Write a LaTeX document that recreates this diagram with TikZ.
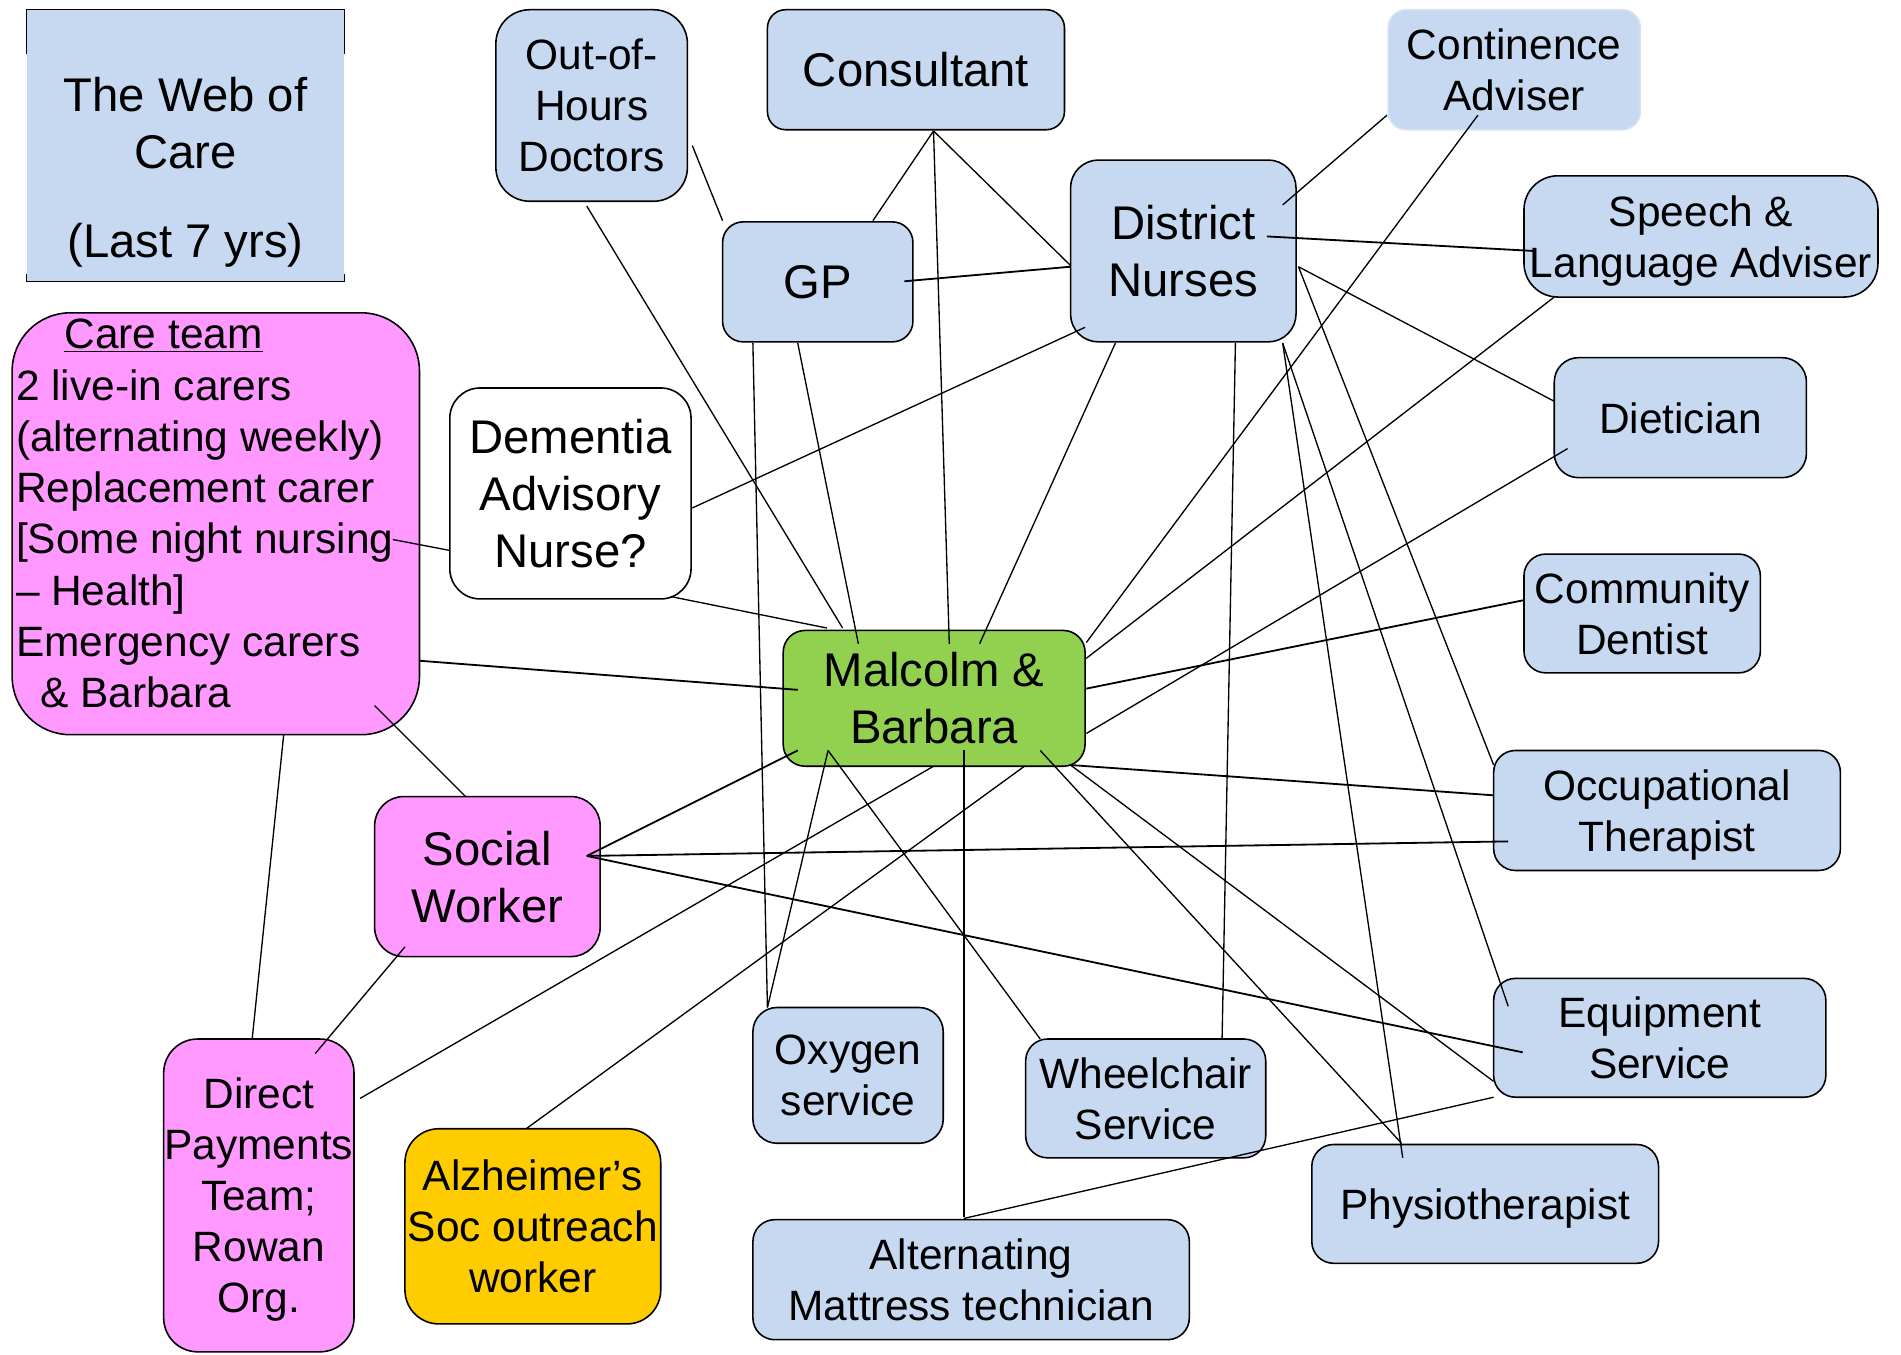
\documentclass[tikz,border=0pt]{standalone}
\usepackage{fontspec}
\setmainfont{Liberation Sans}
\usetikzlibrary{calc}
\definecolor{boxblue}{RGB}{198,217,241}
\definecolor{boxgreen}{RGB}{146,208,80}
\definecolor{boxpink}{RGB}{255,153,255}
\definecolor{boxgold}{RGB}{255,204,0}
\definecolor{contborder}{RGB}{215,227,244}
\begin{document}
\begin{tikzpicture}[x=1pt,y=-1pt,
  box/.style={draw=black, line width=1.3pt, align=center, inner sep=0pt, text depth=0pt,
    font=\fontsize{35}{42}\selectfont},
  bigtext/.style={font=\fontsize{39}{47}\selectfont},
  bluebox/.style={fill=boxblue},
  pinkbox/.style={fill=boxpink},
  conn/.style={line width=1.1pt, black},
  thick conn/.style={line width=1.5pt, black},
  border/.style={line width=1.3pt, black},
]
\useasboundingbox (0,0) rectangle (1568,1117);
\fill[white] (0,0) rectangle (1568,1117);

% ---------- title ----------
\node[fill=boxblue, minimum width=262pt, minimum height=224pt, inner sep=0pt] (title) at (153,120) {};
\draw[border] ([yshift=-37pt]title.north west) -- (title.north west) -- (title.north east) -- ([yshift=-37pt]title.north east);
\draw[border] ([yshift=6pt]title.south west) -- (title.south west) -- (title.south east) -- ([yshift=6pt]title.south east);
\node[align=center, inner sep=0pt, bigtext] (titletext) at (153,142) {The Web of\\Care\\[26pt](Last 7 yrs)};

% ---------- nodes ----------
\node[box, bluebox, minimum width=158pt, minimum height=158pt, rounded corners=28pt] (ooh) at (488,87) {Out-of-\\Hours\\Doctors};
\node[box, bluebox, bigtext, minimum width=245pt, minimum height=99pt, rounded corners=15pt] (cons) at (755.5,57.5) {Consultant};
\node[box, fill=boxblue, draw=contborder, minimum width=208pt, minimum height=99pt, rounded corners=15pt] (cont) at (1249,57.5) {Continence\\Adviser};
\node[box, bluebox, bigtext, minimum width=157pt, minimum height=99pt, rounded corners=17pt] (gp) at (674.5,232.5) {GP};
\node[box, bluebox, bigtext, minimum width=186pt, minimum height=150pt, rounded corners=23pt] (dn) at (976,207) {District\\Nurses};
\node[box, bluebox, minimum width=292pt, minimum height=100pt, rounded corners=28pt] (speech) at (1403,195) {Speech \&\\Language Adviser};
\node[box, bluebox, minimum width=208pt, minimum height=99pt, rounded corners=20pt] (diet) at (1386,344.5) {Dietician};

\node[box, pinkbox, minimum width=336pt, minimum height=348pt, rounded corners=48pt] (care) at (178,432) {};
\node[anchor=north west, align=left, inner sep=0pt, font=\fontsize{35}{42.3}\selectfont] (caretext) at (13,263)
  {\hspace*{40pt}\underline{Care team}\\2 live-in carers\\(alternating weekly)\\Replacement carer\\{[}Some night nursing\\– Health]\\Emergency carers\\\hspace*{20pt}\& Barbara};

\node[box, fill=white, bigtext, minimum width=199pt, minimum height=174pt, rounded corners=25pt] (dem) at (470.5,407) {Dementia\\Advisory\\Nurse?};
\node[box, fill=boxgreen, bigtext, minimum width=249pt, minimum height=112pt, rounded corners=18pt] (mal) at (770.5,576) {Malcolm \&\\Barbara};
\node[box, bluebox, minimum width=195pt, minimum height=98pt, rounded corners=18pt] (dent) at (1354.5,506) {Community\\Dentist};
\node[box, bluebox, minimum width=286pt, minimum height=99pt, rounded corners=18pt] (occ) at (1375,668.5) {Occupational\\Therapist};
\node[box, pinkbox, bigtext, minimum width=186pt, minimum height=132pt, rounded corners=24pt] (soc) at (402,723) {Social\\Worker};
\node[box, pinkbox, minimum width=157pt, minimum height=258pt, rounded corners=28pt] (dp) at (213.5,986) {Direct\\Payments\\Team;\\Rowan\\Org.};
\node[box, fill=boxgold, minimum width=211pt, minimum height=161pt, rounded corners=28pt] (alz) at (439.5,1011.5) {Alzheimer’s\\Soc outreach\\worker};
\node[box, bluebox, minimum width=157pt, minimum height=112pt, rounded corners=20pt] (oxy) at (699.5,887) {Oxygen\\service};
\node[box, bluebox, minimum width=198pt, minimum height=98pt, rounded corners=18pt] (wheel) at (945,906) {Wheelchair\\Service};
\node[box, bluebox, minimum width=360pt, minimum height=99pt, rounded corners=18pt] (mat) at (801,1055.5) {Alternating\\Mattress technician};
\node[box, bluebox, minimum width=286pt, minimum height=98pt, rounded corners=18pt] (phys) at (1225,993) {Physiotherapist};
\node[box, bluebox, minimum width=274pt, minimum height=98pt, rounded corners=18pt] (equip) at (1369,856) {Equipment\\Service};

% ---------- connectors ----------
\draw[conn] ($(ooh)+(83,33)$) -- ($(gp)+(-78.5,-50.5)$);
\draw[conn] ($(ooh)+(-4,83)$) -- ($(mal)+(-75.5,-58)$);
\draw[conn] ($(cons)+(14.5,50.5)$) -- ($(gp)+(45.5,-50.5)$);
\draw[conn] ($(cons)+(14.5,50.5)$) -- ($(dn)+(-93,12)$);
\draw[conn] ($(cons)+(14.5,50.5)$) -- ($(mal)+(12.5,-45)$);
\draw[thick conn] ($(gp)+(71.5,-0.5)$) -- ($(dn)+(-93,13)$);
\draw[conn] ($(gp)+(-53.5,50.5)$) -- ($(oxy)+(-66.5,-56)$);
\draw[conn] ($(gp)+(-16.5,50.5)$) -- ($(mal)+(-62.5,-45)$);
\draw[conn] ($(cont)+(-105,37.5)$) -- ($(dn)+(82,-38)$);
\draw[conn] ($(cont)+(-30,37.5)$) -- ($(mal)+(125.5,-46)$);
\draw[thick conn] ($(dn)+(69,-12)$) -- ($(speech)+(-138,12)$);
\draw[conn] ($(dn)+(95,13)$) -- ($(diet)+(-104,-13.5)$);
\draw[conn] ($(dn)+(-81,63)$) -- ($(dem)+(100.5,12)$);
\draw[conn] ($(dn)+(-56,76)$) -- ($(mal)+(37.5,-45)$);
\draw[conn] ($(dn)+(43,76)$) -- ($(wheel)+(63,-49)$);
\draw[conn] ($(dn)+(95,13)$) -- ($(occ)+(-143,-37.5)$);
\draw[conn] ($(dn)+(82,76)$) -- ($(equip)+(-125,-26)$);
\draw[conn] ($(dn)+(82,76)$) -- ($(phys)+(-68,-38)$);
\draw[conn] ($(speech)+(-121,50)$) -- ($(mal)+(125.5,-33)$);
\draw[conn] ($(diet)+(-93,25.5)$) -- ($(mal)+(125.5,29)$);
\draw[thick conn] ($(dent)+(-97.5,-11)$) -- ($(mal)+(125.5,-8)$);
\draw[thick conn] ($(occ)+(-143,-12.5)$) -- ($(mal)+(112.5,55)$);
\draw[thick conn] ($(occ)+(-131,25.5)$) -- ($(soc)+(82,-17)$);
\draw[thick conn] ($(soc)+(82,-17)$) -- ($(equip)+(-113,12)$);
\draw[thick conn] ($(soc)+(82,-17)$) -- ($(mal)+(-112.5,43)$);
\draw[thick conn] ($(care)+(168,113)$) -- ($(mal)+(-112.5,-7)$);
\draw[conn] ($(care)+(146,13)$) -- ($(dem)+(-99.5,47)$);
\draw[conn] ($(care)+(131,150)$) -- ($(soc)+(-18,-66)$);
\draw[conn] ($(care)+(56,174)$) -- ($(dp)+(-5.5,-129)$);
\draw[conn] ($(dem)+(82.5,85)$) -- ($(mal)+(-88.5,-58)$);
\draw[conn] ($(soc)+(-68,58)$) -- ($(dp)+(46.5,-117)$);
\draw[conn] ($(mal)+(-0.5,56)$) -- ($(dp)+(83.5,-80)$);
\draw[conn] ($(mal)+(74.5,56)$) -- ($(alz)+(-5.5,-80.5)$);
\draw[conn] ($(mal)+(-87.5,43)$) -- ($(oxy)+(-66.5,-56)$);
\draw[conn] ($(mal)+(-87.5,43)$) -- ($(wheel)+(-87,-49)$);
\draw[conn] ($(mal)+(24.5,43)$) -- ($(mat)+(-6,-51.5)$);
\draw[conn] ($(mal)+(87.5,43)$) -- ($(phys)+(-69,-50)$);
\draw[conn] ($(mal)+(112.5,55)$) -- ($(equip)+(-137,36)$);
\draw[conn] ($(equip)+(-137,49)$) -- ($(mat)+(-6,-50.5)$);
\end{tikzpicture}
\end{document}
